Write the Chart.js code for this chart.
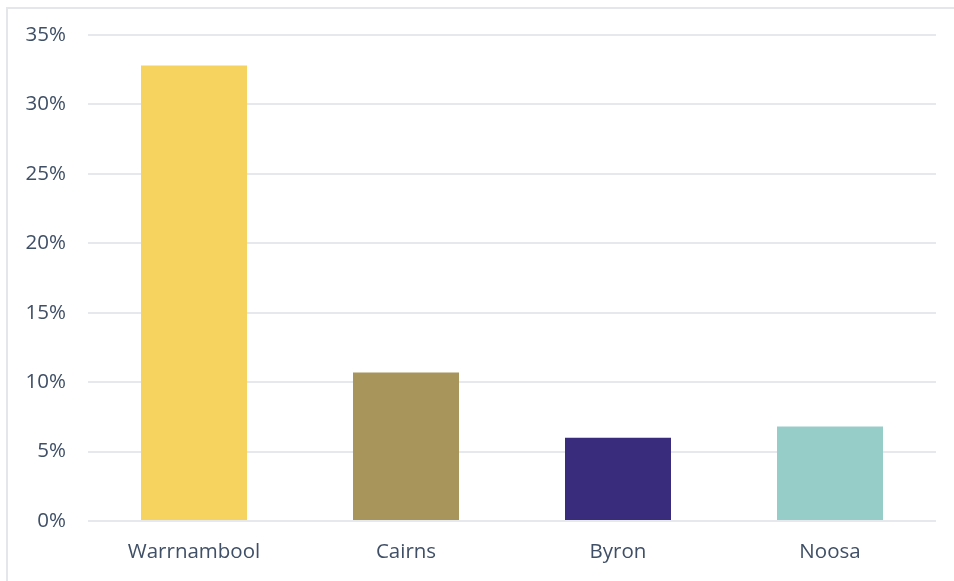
<!DOCTYPE html>
<html>
<head>
<meta charset="utf-8">
<script src="https://cdn.jsdelivr.net/npm/chart.js@4"></script>
<style>
  html, body { margin: 0; padding: 0; background: #fff; }
  #wrap { position: relative; width: 954px; height: 581px; }
  #frame { position: absolute; left: 6px; top: 7px; right: 0; bottom: 0;
           border-left: 2px solid #e4e6ea; border-top: 2px solid #e4e6ea; }
  canvas { position: absolute; left: 0; top: 0; }
</style>
</head>
<body>
<div id="wrap">
  <div id="frame"></div>
  <canvas id="bar-chart" width="954" height="581"></canvas>
</div>
<script>
const towns = ["Warrnambool", "Cairns", "Byron", "Noosa"];
const shares = [32.8, 10.7, 6.0, 6.8];
const barColours = ["#f6d35f", "#a8955c", "#3a2c7c", "#97cdc9"];
const yTicks = [0, 5, 10, 15, 20, 25, 30, 35];

const labelFont = { family: "Open Sans", size: 20.5 };
const labelColour = "#3f4f66";

new Chart(document.getElementById("bar-chart"), {
  type: "bar",
  data: {
    labels: towns,
    datasets: [
      {
        data: shares,
        backgroundColor: barColours,
        barPercentage: 0.5,
        categoryPercentage: 1.0
      }
    ]
  },
  options: {
    responsive: false,
    animation: false,
    layout: { padding: { top: 35, right: 18, bottom: 0, left: 0 } },
    plugins: { legend: { display: false }, tooltip: { enabled: false } },
    scales: {
      x: {
        afterFit: (axis) => { axis.height = 60; },
        grid: { display: false },
        border: { display: false },
        ticks: { color: labelColour, font: labelFont, padding: 11 }
      },
      y: {
        min: yTicks[0],
        max: yTicks[yTicks.length - 1],
        afterBuildTicks: (axis) => { axis.ticks = yTicks.map(v => ({ value: v })); },
        afterFit: (axis) => { axis.width = 88; },
        grid: { color: "#e5e8ed", lineWidth: 2, drawTicks: false },
        border: { display: false },
        ticks: {
          color: labelColour,
          font: labelFont,
          padding: 22,
          callback: (v) => v + "%"
        }
      }
    }
  }
});
</script>
</body>
</html>
